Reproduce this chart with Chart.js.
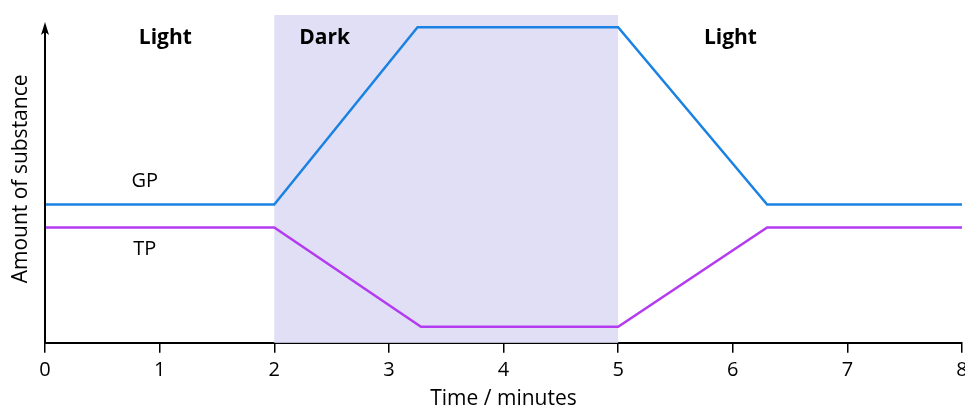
<!DOCTYPE html>
<html>
<head>
<meta charset="utf-8">
<script src="https://cdn.jsdelivr.net/npm/chart.js@4"></script>
<style>
html,body{margin:0;padding:0;background:#fff;}
#wrap{width:965px;height:409px;}
</style>
</head>
<body>
<div id="wrap"><canvas id="c"></canvas></div>
<script>
// ---- data ----
const gpTimes = [0, 2, 3.25, 5, 6.3, 8];
const gpValues = [42.2, 42.2, 96.3, 96.3, 42.2, 42.2];
const tpTimes = [0, 2, 3.28, 5, 6.3, 8];
const tpValues = [35.2, 35.2, 4.9, 4.9, 35.2, 35.2];
const darkPeriod = [2, 5];
const xTicks = [0, 1, 2, 3, 4, 5, 6, 7, 8];
const periodLabels = ["Light", "Dark", "Light"];
const periodLabelX = [1.05, 2.44, 5.98];
const periodLabelY = [93, 93, 93];
const seriesNames = ["GP", "TP"];
const seriesLabelX = [0.87, 0.87];
const seriesLabelY = [49.2, 28.6];

const FONT = "'Open Sans', 'Noto Sans', sans-serif";

const toPts = (xs, ys) => xs.map((x, i) => ({x: x, y: ys[i]}));

const overlay = {
  id: 'overlay',
  beforeDatasetsDraw(chart) {
    const {ctx, chartArea, scales: {x, y}} = chart;
    ctx.save();
    ctx.fillStyle = '#e1dff5';
    const x0 = x.getPixelForValue(darkPeriod[0]);
    const x1 = x.getPixelForValue(darkPeriod[1]);
    ctx.fillRect(x0, chartArea.top, x1 - x0, chartArea.bottom - chartArea.top);
    ctx.restore();
  },
  afterDatasetsDraw(chart) {
    const {ctx, chartArea, scales: {x, y}} = chart;
    ctx.save();
    // y axis with arrow
    const ax = chartArea.left;
    ctx.strokeStyle = '#000';
    ctx.lineWidth = 2;
    ctx.beginPath();
    ctx.moveTo(ax, chartArea.bottom);
    ctx.lineTo(ax, chartArea.top + 12);
    ctx.stroke();
    ctx.fillStyle = '#000';
    ctx.beginPath();
    ctx.moveTo(ax, chartArea.top + 7);
    ctx.lineTo(ax - 4, chartArea.top + 20);
    ctx.lineTo(ax, chartArea.top + 17);
    ctx.lineTo(ax + 4, chartArea.top + 20);
    ctx.closePath();
    ctx.fill();
    // labels
    ctx.textAlign = 'center';
    ctx.textBaseline = 'middle';
    ctx.font = "bold 21px " + FONT;
    periodLabels.forEach((t, i) => {
      ctx.fillText(t, x.getPixelForValue(periodLabelX[i]), y.getPixelForValue(periodLabelY[i]));
    });
    ctx.font = "20px " + FONT;
    seriesNames.forEach((t, i) => {
      ctx.fillText(t, x.getPixelForValue(seriesLabelX[i]), y.getPixelForValue(seriesLabelY[i]));
    });
    ctx.restore();
  }
};

new Chart(document.getElementById('c'), {
  type: 'line',
  data: {
    datasets: [
      {label: seriesNames[0], data: toPts(gpTimes, gpValues), borderColor: '#1a82e2', borderWidth: 2.5, pointRadius: 0, tension: 0, fill: false},
      {label: seriesNames[1], data: toPts(tpTimes, tpValues), borderColor: '#b43cf0', borderWidth: 2.5, pointRadius: 0, tension: 0, fill: false}
    ]
  },
  options: {
    responsive: true,
    maintainAspectRatio: false,
    animation: false,
    layout: {padding: {top: 15, right: 3, left: 0, bottom: -3}},
    plugins: {legend: {display: false}, tooltip: {enabled: false}},
    scales: {
      x: {
        type: 'linear', min: 0, max: 8,
        afterBuildTicks: s => { s.ticks = xTicks.map(v => ({value: v})); },
        afterFit: s => { s.paddingRight = 0; s.paddingLeft = 0; },
        grid: {display: true, drawOnChartArea: false, drawTicks: true, tickLength: 10, color: '#000', lineWidth: 1.5},
        border: {display: true, color: '#000', width: 2},
        ticks: {color: '#000', font: {size: 20, family: FONT}, padding: 5, maxRotation: 0},
        title: {display: true, text: 'Time / minutes', color: '#000', font: {size: 21, family: FONT}, padding: {top: 0, bottom: 0}}
      },
      y: {
        min: 0, max: 100,
        afterFit: s => { s.width = 45; },
        grid: {display: false, drawTicks: false},
        border: {display: false},
        ticks: {display: false},
        title: {display: true, text: 'Amount of substance', color: '#000', font: {size: 21, family: FONT}, padding: {top: 8, bottom: 0}}
      }
    }
  },
  plugins: [overlay]
});
</script>
</body>
</html>
